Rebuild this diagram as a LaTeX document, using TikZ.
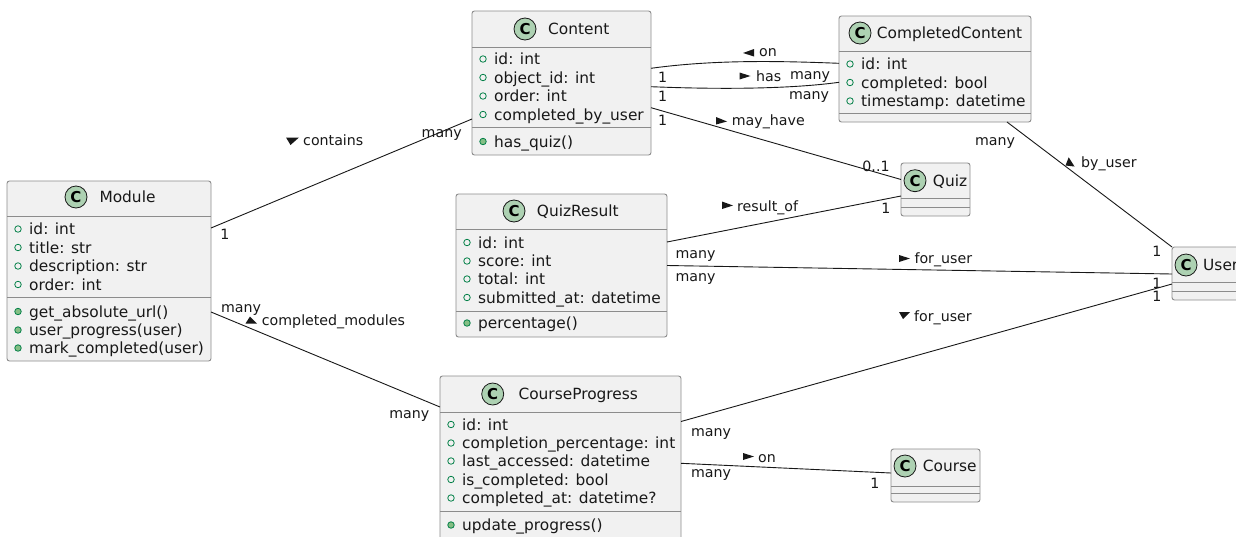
\documentclass[tikz,border=0pt]{standalone}
\usepackage{fontspec}
\setmainfont{DejaVu Sans}
\usetikzlibrary{calc}
\definecolor{boxfill}{HTML}{F1F1F1}
\definecolor{bordergray}{HTML}{8C8C8C}
\definecolor{lineblack}{HTML}{181818}
\definecolor{badgegreen}{HTML}{ADD1B2}
\definecolor{fieldgreen}{HTML}{038048}
\definecolor{methgreen}{HTML}{84BE84}
\tikzset{
  cls/.style={draw=bordergray, fill=boxfill, line width=0.9pt, rounded corners=2.5pt, anchor=north west, inner sep=0pt, outer sep=0pt},
  sepline/.style={draw=bordergray, line width=0.9pt},
  badge/.style={circle, draw=lineblack, fill=badgegreen, line width=0.8pt, minimum size=22pt, inner sep=0pt, font=\fontsize{15}{15}\selectfont\bfseries, text=black},
  ttl/.style={anchor=base west, inner sep=0pt, font=\fontsize{15.4}{18}\selectfont, text=lineblack},
  txt/.style={anchor=base west, inner sep=0pt, font=\fontsize{15.4}{18}\selectfont, text=lineblack},
  fldicon/.style={circle, draw=fieldgreen, line width=0.8pt, minimum size=6.5pt, inner sep=0pt},
  mthicon/.style={circle, draw=fieldgreen, fill=methgreen, line width=0.8pt, minimum size=6.5pt, inner sep=0pt},
  lbl/.style={anchor=base, inner sep=0pt, font=\fontsize{14.2}{16}\selectfont, text=lineblack},
  lblw/.style={anchor=base west, inner sep=0pt, font=\fontsize{14.2}{16}\selectfont, text=lineblack},
  assoc/.style={draw=lineblack, line width=0.9pt},
  tri/.style={fill=lineblack}
}
\newcommand\hsep[2]{\draw[sepline] (#1.west |- 0,#2) -- (#1.east |- 0,#2);}
\newcommand\fld[4]{\node[fldicon] (#1i) at (#2+11,#3) {}; \node[txt] (#1) at (#2+22,#3+5.5) {#4};}
\newcommand\mth[4]{\node[mthicon] (#1i) at (#2+11,#3) {}; \node[txt] (#1) at (#2+22,#3+5.5) {#4};}
\begin{document}
\begin{tikzpicture}[x=1pt,y=-1pt]
\useasboundingbox (0,0) rectangle (1236,536);
\clip (0,0) rectangle (1236,536);
\fill[white] (0,0) rectangle (1236,536);

% ---------- class boxes ----------
\node[cls, minimum width=204pt, minimum height=180pt] (module) at (7,181) {};
\node[cls, minimum width=179pt, minimum height=144pt] (content) at (472,11) {};
\node[cls, minimum width=192pt, minimum height=106pt] (cc) at (839,16) {};
\node[cls, minimum width=211pt, minimum height=143pt] (qr) at (456,194) {};
\node[cls, minimum width=241pt, minimum height=166pt] (cp) at (440,376) {};
\node[cls, minimum width=69pt, minimum height=53pt] (quiz) at (901,163) {};
\node[cls, minimum width=71pt, minimum height=53pt] (user) at (1172,247) {};
\node[cls, minimum width=89pt, minimum height=53pt] (course) at (891,449) {};

% ---------- connectors ----------
\draw[assoc] ([yshift=-47pt]module.north east) -- ([yshift=-108pt]content.north west);
\draw[assoc] ([yshift=-131pt]module.north east) -- ([yshift=-31pt]cp.north west);
\draw[assoc] ([yshift=-57.3pt]content.north east) .. controls (715,59.5) and (780,61) .. ([yshift=-47.3pt]cc.north west);
\draw[assoc] ([yshift=-75.7pt]content.north east) .. controls (720,89.5) and (790,89) .. ([yshift=-66.3pt]cc.north west);
\draw[assoc] ([yshift=-96.7pt]content.north east) -- ([yshift=-16.5pt]quiz.north west);
\draw[assoc] ([yshift=-48pt]qr.north east) -- ([yshift=-33pt]quiz.north west);
\draw[assoc] ([yshift=-71.5pt]qr.north east) -- ([yshift=-27pt]user.north west);
\draw[assoc] ([xshift=-24pt]cc.south east) -- (user.north west);
\draw[assoc] ([yshift=-45.5pt]cp.north east) -- ([yshift=-37pt]user.north west);
\draw[assoc] ([yshift=-87.3pt]cp.north east) -- ([yshift=-24pt]course.north west);

% ---------- Module ----------
\node[badge] (moduleC) at (76,197) {C};
\node[ttl] (moduleT) at (99.3,202.5) {Module};
\hsep{module}{216}
\fld{mA}{7}{229}{id: int}
\fld{mB}{7}{247.5}{title: str}
\fld{mC}{7}{266}{description: str}
\fld{mD}{7}{284.5}{order: int}
\hsep{module}{297.5}
\mth{mE}{7}{311.5}{get\_absolute\_url()}
\mth{mF}{7}{330}{user\_progress(user)}
\mth{mG}{7}{348}{mark\_completed(user)}

% ---------- Content ----------
\node[badge] (contentC) at (525,29) {C};
\node[ttl] (contentT) at (548,34.5) {Content};
\hsep{content}{47.3}
\fld{cA}{472}{59}{id: int}
\fld{cB}{472}{77.5}{object\_id: int}
\fld{cC}{472}{96}{order: int}
\fld{cD}{472}{114.5}{completed\_by\_user}
\hsep{content}{127.7}
\mth{cE}{472}{141.5}{has\_quiz()}

% ---------- CompletedContent ----------
\node[badge] (ccC) at (860,33) {C};
\node[ttl] (ccT) at (876.7,38.5) {CompletedContent};
\hsep{cc}{51.7}
\fld{ccA}{839}{64}{id: int}
\fld{ccB}{839}{82.5}{completed: bool}
\fld{ccD}{839}{101}{timestamp: datetime}
\hsep{cc}{113}

% ---------- QuizResult ----------
\node[badge] (qrC) at (514,211) {C};
\node[ttl] (qrT) at (536.7,216.5) {QuizResult};
\hsep{qr}{229}
\fld{qA}{456}{242.5}{id: int}
\fld{qB}{456}{261}{score: int}
\fld{qC}{456}{279}{total: int}
\fld{qD}{456}{297.5}{submitted\_at: datetime}
\hsep{qr}{311}
\mth{qE}{456}{323}{percentage()}

% ---------- CourseProgress ----------
\node[badge] (cpC) at (492.7,394) {C};
\node[ttl] (cpT) at (518.3,399.5) {CourseProgress};
\hsep{cp}{412}
\fld{pA}{440}{424.5}{id: int}
\fld{pB}{440}{443}{completion\_percentage: int}
\fld{pC}{440}{461}{last\_accessed: datetime}
\fld{pD}{440}{479.5}{is\_completed: bool}
\fld{pE}{440}{498}{completed\_at: datetime?}
\hsep{cp}{511.3}
\mth{pF}{440}{525}{update\_progress()}

% ---------- Quiz / User / Course ----------
\node[badge] (quizC) at (915,180.7) {C};
\node[ttl] (quizT) at (932.7,186.2) {Quiz};
\hsep{quiz}{198.3}
\hsep{quiz}{207.3}
\node[badge] (userC) at (1186,265) {C};
\node[ttl] (userT) at (1203,270.5) {User};
\hsep{user}{282.7}
\hsep{user}{291.7}
\node[badge] (courseC) at (905,466) {C};
\node[ttl] (courseT) at (922.7,471.5) {Course};
\hsep{course}{486}
\hsep{course}{493.3}

% ---------- labels ----------
% contains
\node[lbl] (l1a) at (225,239) {1};
\node[lbl] (l1b) at (441.7,137) {many};
\fill[tri] (286,137.5) -- (299,137.5) -- (290.5,145) -- cycle;
\node[lblw] (l1c) at (303,145.5) {contains};
% completed_modules
\node[lbl] (l2a) at (241,312.3) {many};
\node[lbl] (l2b) at (409.3,418.3) {many};
\fill[tri] (250,316.5) -- (245.5,323.5) -- (257,323.5) -- cycle;
\node[lblw] (l2c) at (261.7,325) {completed\_modules};
% on
\node[lbl] (l3a) at (662.7,82.7) {1};
\node[lbl] (l3b) at (810,79) {many};
\fill[tri] (743,53) -- (754,49) -- (754,56.5) -- cycle;
\node[lblw] (l3c) at (759,56.7) {on};
% has
\node[lbl] (l4a) at (662.7,101.7) {1};
\node[lbl] (l4b) at (809,99.3) {many};
\fill[tri] (739.5,72.5) -- (739.5,79.5) -- (750.5,76) -- cycle;
\node[lblw] (l4c) at (756,81) {has};
% may_have
\node[lbl] (l5a) at (662.7,125) {1};
\node[lbl] (l5b) at (876,171.7) {0..1};
\fill[tri] (716,117) -- (716,124.5) -- (727,121.5) -- cycle;
\node[lblw] (l5c) at (731.7,125.7) {may\_have};
% result_of
\node[lbl] (l6a) at (695.5,258.3) {many};
\node[lbl] (l6b) at (886,213.3) {1};
\fill[tri] (722,201.5) -- (722,209) -- (733,205.5) -- cycle;
\node[lblw] (l6c) at (737,211) {result\_of};
% for_user (QuizResult)
\node[lbl] (l7a) at (695.5,281.7) {many};
\node[lbl] (l7b) at (1157,288.3) {1};
\fill[tri] (899,255) -- (899,262) -- (910,258.5) -- cycle;
\node[lblw] (l7c) at (914.3,263.3) {for\_user};
% by_user
\node[lbl] (l8a) at (995,145.7) {many};
\node[lbl] (l8b) at (1157,256.7) {1};
\fill[tri] (1068.7,157.3) -- (1065.5,165.5) -- (1074.5,166.5) -- cycle;
\node[lblw] (l8c) at (1081,167) {by\_user};
% for_user (CourseProgress)
\node[lbl] (l9a) at (711,436) {many};
\node[lbl] (l9b) at (1157,301) {1};
\fill[tri] (899,312) -- (910,312) -- (903,319) -- cycle;
\node[lblw] (l9c) at (914,321) {for\_user};
% on (Course)
\node[lbl] (l10a) at (711,477) {many};
\node[lbl] (l10b) at (875,488.3) {1};
\fill[tri] (743,453) -- (743,460) -- (754,456.5) -- cycle;
\node[lblw] (l10c) at (758,462) {on};
\end{tikzpicture}
\end{document}
